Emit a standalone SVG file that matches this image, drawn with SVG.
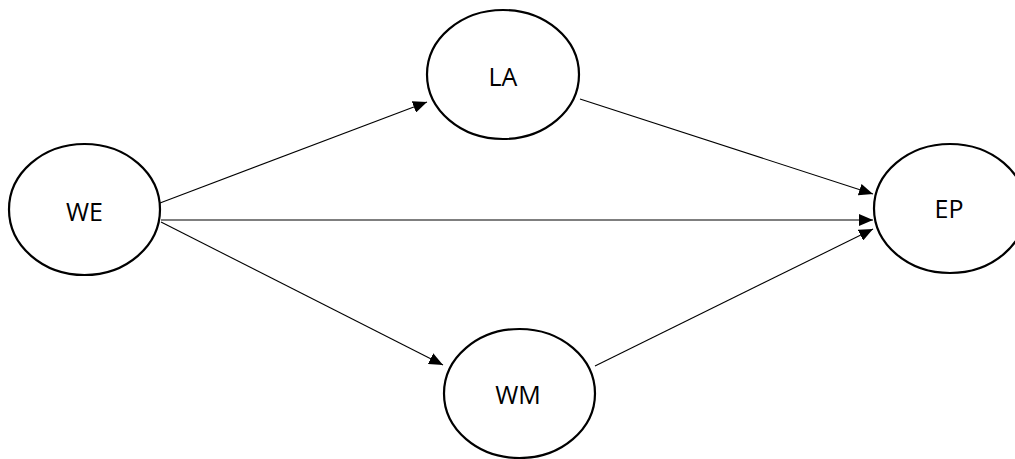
<svg xmlns="http://www.w3.org/2000/svg" width="1015" height="459" viewBox="0 0 1015 459">
<style>
.node{fill:#fff;stroke:#000;stroke-width:2.2}
.lbl{font-family:"Open Sans","Liberation Sans",sans-serif;font-size:25px;fill:#000;text-anchor:middle}
.edge{stroke:#000;stroke-width:1.1;fill:none;marker-end:url(#arr)}
</style>
<defs>
<marker id="arr" viewBox="0 0 14 12" refX="14" refY="6" markerWidth="14" markerHeight="12" markerUnits="userSpaceOnUse" orient="auto">
<path d="M0,0 L14,6 L0,12 Z" fill="#000"/>
</marker>
</defs>
<rect width="1015" height="459" fill="#fff"/>
<g id="connectors">
<line class="edge" x1="160" y1="203" x2="427" y2="102"/>
<line class="edge" x1="580" y1="99" x2="873" y2="194"/>
<line class="edge" x1="161" y1="220" x2="873" y2="220"/>
<line class="edge" x1="161" y1="222" x2="443" y2="365"/>
<line class="edge" x1="595" y1="366" x2="873" y2="229"/>
</g>
<g id="WE"><ellipse class="node" cx="84.5" cy="209.5" rx="75.5" ry="65.5"/><text class="lbl" x="84.5" y="221">WE</text></g>
<g id="LA"><ellipse class="node" cx="503" cy="74.5" rx="76" ry="64.5"/><text class="lbl" x="503" y="86">LA</text></g>
<g id="EP"><ellipse class="node" cx="950" cy="208.5" rx="76" ry="64.5"/><text class="lbl" x="949" y="218">EP</text></g>
<g id="WM"><ellipse class="node" cx="519.5" cy="393.5" rx="75.5" ry="64.5"/><text class="lbl" x="518" y="404">WM</text></g>
</svg>
